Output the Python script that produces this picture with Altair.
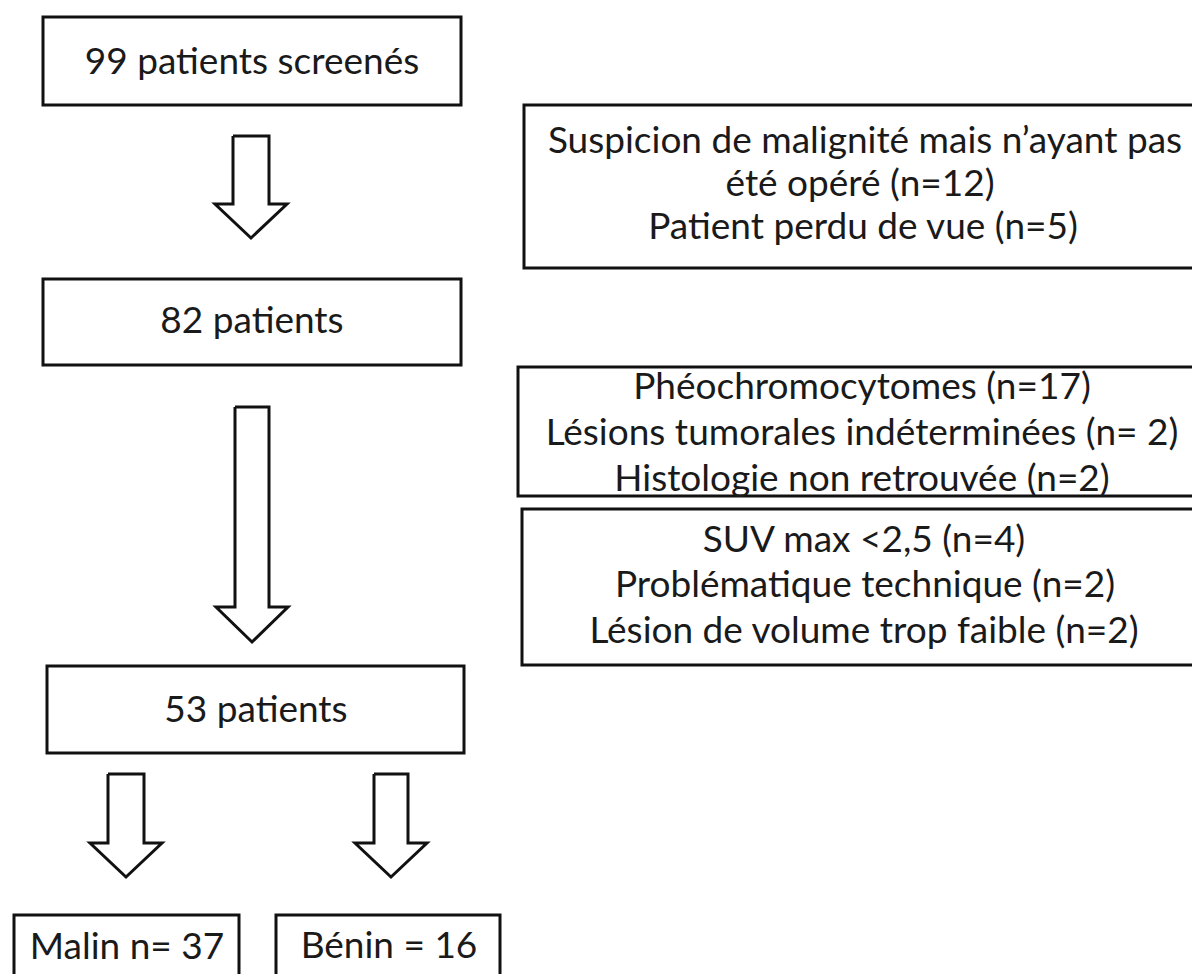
import altair as alt
import pandas as pd

# ---- boxes (page pixel coordinates, y downward) ----
box_id = ["b99", "b82", "b53", "malin", "benin", "r1", "r2", "r3"]
box_x1 = [43, 43, 47, 14, 276, 524, 518, 522]
box_x2 = [461, 461, 464, 239, 500, 1215, 1215, 1215]
box_y1 = [17, 279, 666, 915, 915, 105, 367, 509]
box_y2 = [105, 365, 753, 990, 990, 268, 496, 665]

# ---- text lines ----
line_text = [
    "99 patients screenés",
    "82 patients",
    "53 patients",
    "Malin n= 37",
    "Bénin = 16",
    "Suspicion de malignité mais n\u2019ayant pas",
    "été opéré (n=12)",
    "Patient perdu de vue (n=5)",
    "Phéochromocytomes (n=17)",
    "Lésions tumorales indéterminées (n= 2)",
    "Histologie non retrouvée (n=2)",
    "SUV max <2,5 (n=4)",
    "Problématique technique (n=2)",
    "Lésion de volume trop faible (n=2)",
]
line_x = [252, 252, 256, 127, 389, 865, 860, 863, 862, 862, 862, 864, 865, 864]
line_y = [74, 333, 722, 959, 958, 153, 196, 239, 399, 445, 491, 552, 597, 643]

# ---- hollow block arrows ----
arrow_id = ["a1", "a2", "a3", "a4"]
arrow_cx = [251, 252, 126, 391]
arrow_top = [136, 407, 774, 774]
arrow_neck = [204, 607, 843, 843]
arrow_tip = [238, 642, 877, 877]
arrow_shaft_half = [18, 17, 18, 17]
arrow_head_half = [36, 36, 36, 36]

boxes = pd.DataFrame({"id": box_id, "x1": box_x1, "x2": box_x2, "y1": box_y1, "y2": box_y2})
texts = pd.DataFrame({"t": line_text, "x": line_x, "y": line_y})

rows = []
for i, aid in enumerate(arrow_id):
    cx, s, h = arrow_cx[i], arrow_shaft_half[i], arrow_head_half[i]
    top, neck, tip = arrow_top[i], arrow_neck[i], arrow_tip[i]
    pts = [(cx - s, top), (cx + s, top), (cx + s, neck), (cx + h, neck),
           (cx, tip), (cx - h, neck), (cx - s, neck), (cx - s, top)]
    for k, (px, py) in enumerate(pts):
        rows.append({"id": aid, "k": k, "x": px, "y": py})
arrows = pd.DataFrame(rows)

xs = alt.Scale(domain=[8, 1192], nice=False, zero=False)
ys = alt.Scale(domain=[8, 974], nice=False, zero=False, reverse=True)

rects = alt.Chart(boxes).mark_rect(fill="white", stroke="#111111", strokeWidth=3, clip=True).encode(
    x=alt.X("x1:Q", scale=xs, axis=None),
    x2="x2:Q",
    y=alt.Y("y1:Q", scale=ys, axis=None),
    y2="y2:Q",
)

arrow_lines = alt.Chart(arrows).mark_line(
    stroke="#111111", strokeWidth=3, strokeJoin="miter", clip=True
).encode(
    x=alt.X("x:Q", scale=xs, axis=None),
    y=alt.Y("y:Q", scale=ys, axis=None),
    detail="id:N",
    order=alt.Order("k:Q"),
)

labels = alt.Chart(texts).mark_text(
    font="Lato", fontSize=37, baseline="alphabetic", align="center", color="#1a1a1a"
).encode(
    x=alt.X("x:Q", scale=xs, axis=None),
    y=alt.Y("y:Q", scale=ys, axis=None),
    text="t:N",
)

chart = alt.layer(rects, arrow_lines, labels).properties(
    width=1184, height=966, padding=0, background="white"
).configure_view(stroke=None)

chart.save("out.html", embed_options={"renderer": "svg", "actions": False})
